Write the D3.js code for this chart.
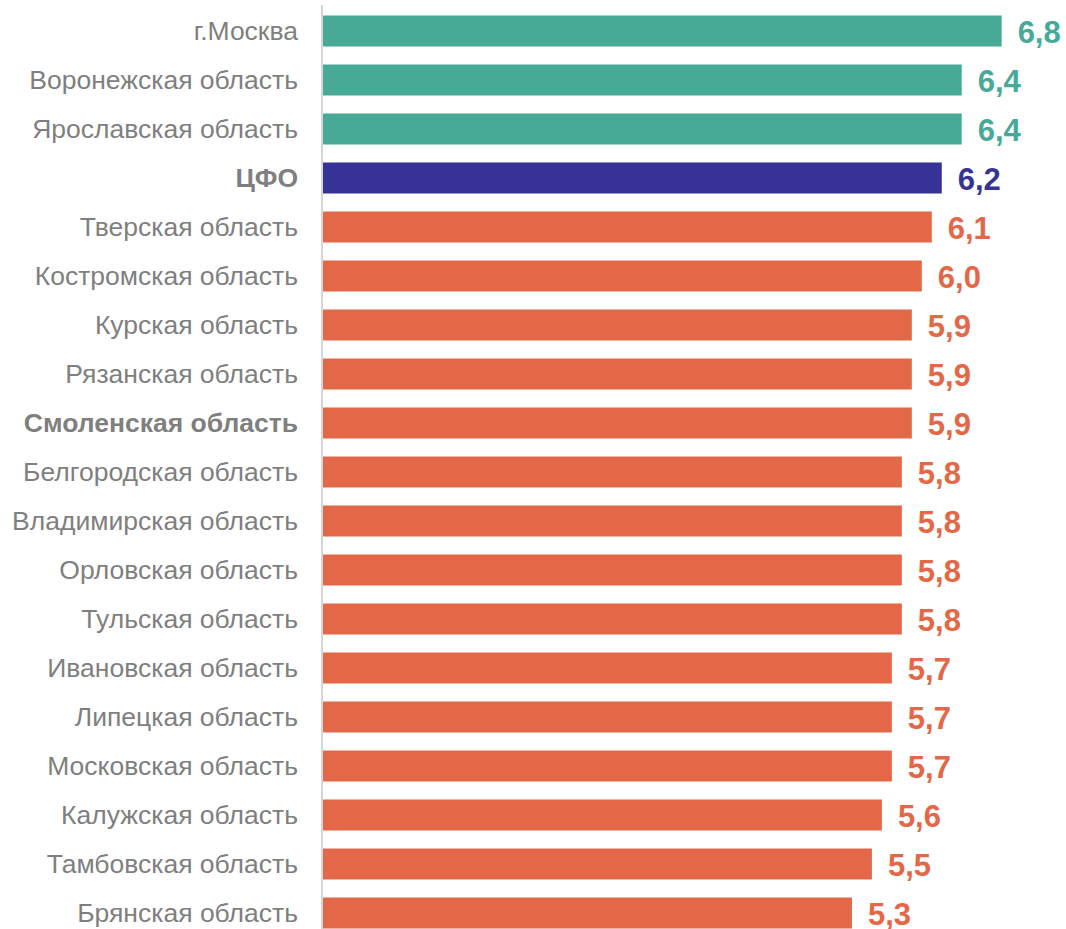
<!DOCTYPE html>
<html><head><meta charset="utf-8">
<script src="https://cdn.jsdelivr.net/npm/d3@7"></script>
<style>body{margin:0;background:#fff} text{font-family:'Liberation Sans', Arial, sans-serif}</style>
</head><body>
<svg id="c" width="1066" height="929"></svg>
<script>
const categories = ["г.Москва","Воронежская область","Ярославская область","ЦФО","Тверская область","Костромская область","Курская область","Рязанская область","Смоленская область","Белгородская область","Владимирская область","Орловская область","Тульская область","Ивановская область","Липецкая область","Московская область","Калужская область","Тамбовская область","Брянская область"];
const values = [6.8,6.4,6.4,6.2,6.1,6.0,5.9,5.9,5.9,5.8,5.8,5.8,5.8,5.7,5.7,5.7,5.6,5.5,5.3];
const groups = ["top","top","top","total","rest","rest","rest","rest","focus","rest","rest","rest","rest","rest","rest","rest","rest","rest","rest"];
const boldLabels = ["ЦФО","Смоленская область"];

const colors = {top:"#46AA96", total:"#373396", rest:"#E36847", focus:"#E36847"};
const svg = d3.select("#c");
const x0 = 323;
const x = d3.scaleLinear().domain([0, 1]).range([x0, x0 + 99.8]);
const y = d3.scaleBand().domain(categories).range([6.5, 937.5]).paddingInner(18/49).paddingOuter(9/49);

svg.selectAll("rect.bar").data(categories).join("rect")
  .attr("class","bar")
  .attr("x", x(0))
  .attr("y", d => y(d))
  .attr("width", (d,i) => x(values[i]) - x(0))
  .attr("height", y.bandwidth())
  .attr("fill", (d,i) => colors[groups[i]]);

svg.append("line").attr("x1",322).attr("x2",322).attr("y1",5).attr("y2",929)
  .attr("stroke","#c8c8c8").attr("stroke-width",1.5);

svg.selectAll("text.cat").data(categories).join("text")
  .attr("class","cat")
  .attr("x", 298)
  .attr("y", d => y(d) + y.bandwidth()/2)
  .attr("dy","0.35em")
  .attr("text-anchor","end")
  .attr("font-size", 26.5)
  .attr("font-weight", d => boldLabels.includes(d) ? "bold" : "normal")
  .attr("fill","#7f7f7f")
  .text(d => d);

svg.selectAll("text.val").data(categories).join("text")
  .attr("class","val")
  .attr("x", (d,i) => x(values[i]) + 16)
  .attr("y", d => y(d) + y.bandwidth()/2)
  .attr("dy","0.38em")
  .attr("font-size", 31)
  .attr("font-weight","bold")
  .attr("fill", (d,i) => colors[groups[i]])
  .text((d,i) => d3.format(".1f")(values[i]).replace(".", ","));
</script>
</body></html>
